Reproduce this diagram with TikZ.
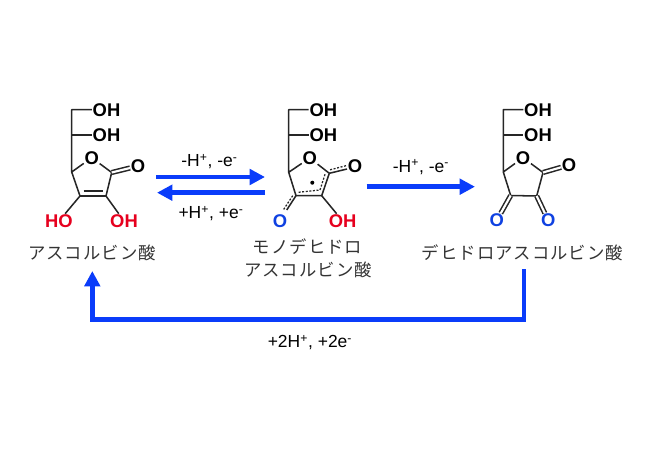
\documentclass[tikz,border=0pt]{standalone}
\usepackage{fontspec}
\setmainfont{Liberation Sans}
\newfontfamily\jpfont[LetterSpace=6]{Noto Sans CJK JP}
\usetikzlibrary{arrows.meta}
\definecolor{arrowblue}{RGB}{10,60,250}
\definecolor{atomred}{RGB}{230,0,30}
\definecolor{atomblue}{RGB}{15,65,225}
\tikzset{
  atom/.style={font=\bfseries\fontsize{13.8}{15}\selectfont,inner sep=0.4pt},
  bond/.style={line width=1.15pt,color=black!85,line join=round},
  dbond/.style={bond,double,double distance=1.6pt},
  dotbond/.style={line width=0.95pt,color=black!85,dash pattern=on 1.5pt off 1.2pt},
  rxn/.style={line width=3.4pt,color=arrowblue,-{Triangle[length=11.5pt,width=11.5pt]}},
  rxnlabel/.style={font=\fontsize{13.1}{15}\selectfont,inner sep=0pt},
  jplabel/.style={font=\jpfont\fontsize{13}{15}\selectfont,color=black!80,inner sep=0pt}
}
\begin{document}
\begin{tikzpicture}[x=0.75pt,y=0.75pt,yscale=-1]
\useasboundingbox (0,0) rectangle (650,450);

%Ascorbic acid
\coordinate (atop) at (71.7,109.7);
\coordinate (amid) at (71.7,135);
\coordinate (ac5) at (71.7,172);
\coordinate (ac1) at (111.7,172.5);
\coordinate (ac2) at (106,196);
\coordinate (ac3) at (80,196);
\coordinate (ain1) at (83.5,191);
\coordinate (ain2) at (102.7,191);
\node [atom] (aoh1) at (106.5,109.7) {OH};
\node [atom] (aoh2) at (106.5,135) {OH};
\node [atom] (aor) at (91.7,157.7) {O};
\node [atom] (aok) at (138,166) {O};
\node [atom,color=atomred] (aho) at (59,221) {HO};
\node [atom,color=atomred] (aoh3) at (124,221) {OH};
\draw [bond] (aoh1) -- (atop) -- (ac5) -- (aor) -- (ac1) -- (ac2) -- (ac3) -- (ac5);
\draw [bond] (amid) -- (aoh2);
\draw [bond] (ain1) -- (ain2);
\draw [dbond] (ac1) -- (aok);
\draw [bond] (ac3) -- (aho);
\draw [bond] (ac2) -- (aoh3);
\node [jplabel] (aname) at (92,253) {アスコルビン酸};

%Monodehydroascorbic acid
\coordinate (mtop) at (288.7,109.7);
\coordinate (mmid) at (288.7,135);
\coordinate (mc5) at (288.7,172.3);
\coordinate (mc1) at (329.3,173.3);
\coordinate (mc2) at (321.7,195.7);
\coordinate (mc3) at (296,195.7);
\coordinate (mke) at (347,169);
\coordinate (mbe) at (286.7,210);
\coordinate (md1) at (346,165.7);
\coordinate (md2) at (329.3,170);
\coordinate (md3) at (325,174.3);
\coordinate (md4) at (320,190);
\coordinate (md5) at (298.3,192.3);
\coordinate (md6) at (292.7,195.7);
\coordinate (md7) at (283.3,210);
\node [atom] (moh1) at (323.3,109.7) {OH};
\node [atom] (moh2) at (323.3,135) {OH};
\node [atom] (mor) at (309.7,158) {O};
\node [atom] (mok) at (355,166) {O};
\node [atom,color=atomblue] (mob) at (280,221) {O};
\node [atom,color=atomred] (moh3) at (342.7,221) {OH};
\draw [bond] (moh1) -- (mtop) -- (mc5) -- (mor) -- (mc1) -- (mc2) -- (mc3) -- (mc5);
\draw [bond] (mmid) -- (moh2);
\draw [bond] (mc1) -- (mke);
\draw [bond] (mc3) -- (mbe);
\draw [bond] (mc2) -- (moh3);
\draw [dotbond] (md1) -- (md2);
\draw [dotbond] (md3) -- (md4) -- (md5);
\draw [dotbond] (md6) -- (md7);
\node [circle,fill=black,inner sep=0pt,minimum size=3pt] (mdot) at (312.3,182.7) {};
\node [jplabel] (mname1) at (307.5,247) {モノデヒドロ};
\node [jplabel] (mname2) at (308,270) {アスコルビン酸};

%Dehydroascorbic acid
\coordinate (dtop) at (503.3,109.7);
\coordinate (dmid) at (503.3,135);
\coordinate (dc5) at (503.3,172);
\coordinate (dc1) at (543,172.5);
\coordinate (dc2) at (536.7,196);
\coordinate (dc3) at (510.7,195.5);
\node [atom] (doh1) at (538,109.7) {OH};
\node [atom] (doh2) at (538,135) {OH};
\node [atom] (dor) at (523,157.7) {O};
\node [atom] (dok) at (569,165) {O};
\node [atom,color=atomblue] (dob1) at (496.7,220.5) {O};
\node [atom,color=atomblue] (dob2) at (548.3,220.5) {O};
\draw [bond] (doh1) -- (dtop) -- (dc5) -- (dor) -- (dc1) -- (dc2) -- (dc3) -- (dc5);
\draw [bond] (dmid) -- (doh2);
\draw [dbond] (dc1) -- (dok);
\draw [dbond] (dc3) -- (dob1);
\draw [dbond] (dc2) -- (dob2);
\node [jplabel] (dname) at (522.5,253) {デヒドロアスコルビン酸};

%Arrows
\coordinate (r1a) at (156,177);
\coordinate (r1b) at (265,177);
\coordinate (r2a) at (265,192.7);
\coordinate (r2b) at (157,192.7);
\coordinate (r3a) at (366.7,186.7);
\coordinate (r3b) at (475,186.7);
\coordinate (r4a) at (524,269);
\coordinate (r4b) at (524,319.5);
\coordinate (r4c) at (92.3,319.5);
\coordinate (r4d) at (92.3,271);
\draw [rxn] (r1a) -- (r1b);
\draw [rxn] (r2a) -- (r2b);
\draw [rxn] (r3a) -- (r3b);
\draw [rxn] (r4a) -- (r4b) -- (r4c) -- (r4d);
\node [rxnlabel] (l1) at (209.5,161.5) {-H\textsuperscript{+}, -e\textsuperscript{-}};
\node [rxnlabel] (l2) at (211,213.5) {+H\textsuperscript{+}, +e\textsuperscript{-}};
\node [rxnlabel] (l3) at (421,167) {-H\textsuperscript{+}, -e\textsuperscript{-}};
\node [rxnlabel] (l4) at (310,342.5) {+2H\textsuperscript{+}, +2e\textsuperscript{-}};

\end{tikzpicture}
\end{document}
